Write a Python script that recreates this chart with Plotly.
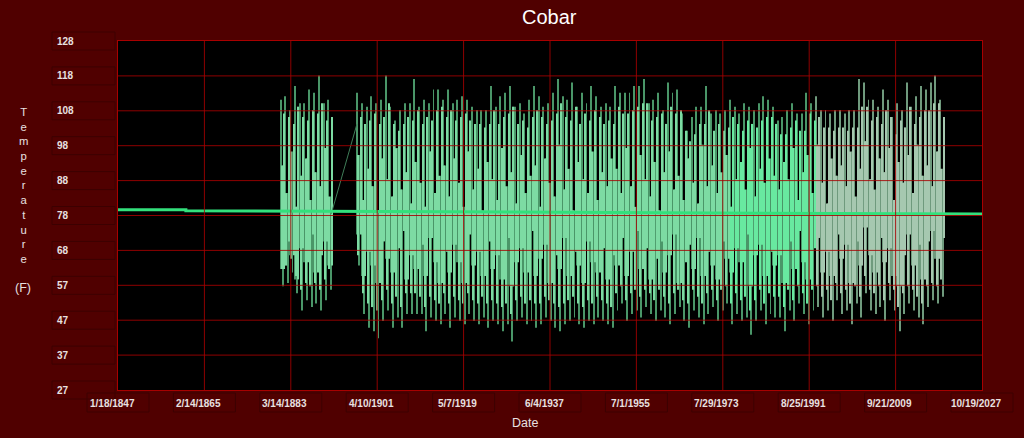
import plotly.graph_objects as go
import numpy as np

chart_title = "Cobar"
x_title = "Date"
y_title = "Temperature"
y_unit = "(F)"

x_tick_dates = ["1847-01-18", "1865-02-14", "1883-03-14", "1901-04-10", "1919-05-07",
                "1937-06-04", "1955-07-01", "1973-07-29", "1991-08-25", "2009-09-21", "2027-10-19"]
x_tick_labels = ["1/18/1847", "2/14/1865", "3/14/1883", "4/10/1901", "5/7/1919",
                 "6/4/1937", "7/1/1955", "7/29/1973", "8/25/1991", "9/21/2009", "10/19/2027"]
y_tick_labels = ["27", "37", "47", "57", "68", "78", "88", "98", "108", "118", "128"]

years = list(range(1881, 1892)) + list(range(1897, 2020))

# annual extreme maxima (summer spike tips)
annual_max = ([111, 112, 108, 115, 110, 110, 114, 113, 118, 110, 111]
              + [113, 110, 109, 112, 110, 111, 118, 109, 105, 108, 110, 110, 117, 109, 111, 110, 114, 114, 111]
              + [114, 110, 111, 112, 111, 109, 108, 108, 108, 115, 109, 112, 113, 115, 109, 110, 107, 111, 115, 112,
                 109, 110, 113, 117, 112, 111, 116, 109, 113, 110, 115, 112, 109, 110, 109]
              + [115, 113, 113, 113, 115, 115, 117, 110, 111, 113, 108, 116, 113, 114, 107, 102, 106, 109, 109, 115,
                 107, 108, 107, 108, 111, 109, 107, 110, 109, 108, 110, 112, 111, 109]
              + [105, 106, 108, 110, 107, 107, 113, 110, 112, 108, 108, 107, 108, 108, 107, 108, 108, 117, 116, 111,
                 111, 109, 114, 111, 106, 110, 108, 116, 109, 112, 115, 114, 116, 118, 111])

# annual extreme minima (winter spike tips)
annual_min = ([57, 58, 61, 55, 50, 53, 51, 52, 50, 53, 56]
              + [63, 49, 45, 44, 42, 47, 50, 45, 48, 45, 49, 49, 49, 49, 44, 48, 47, 46, 49]
              + [45, 48, 47, 46, 49, 47, 46, 48, 45, 47, 46, 44, 46, 41, 47, 48, 46, 47, 45, 46,
                 48, 47, 45, 44, 46, 47, 48, 46, 45, 47, 46, 48, 47, 46, 45]
              + [50, 52, 47, 49, 50, 48, 51, 49, 47, 50, 48, 46, 49, 51, 47, 45, 50, 48, 46, 49,
                 51, 47, 50, 52, 46, 49, 47, 48, 43, 47, 50, 46, 49, 48]
              + [48, 44, 50, 47, 52, 49, 46, 50, 51, 48, 50, 47, 53, 49, 50, 46, 52, 48, 55, 50,
                 49, 51, 47, 53, 50, 44, 49, 52, 50, 48, 46, 51, 53, 52, 54])

# typical summer highs (top of the bright body)
core_high = ([107, 106, 104, 109, 106, 105, 108, 107, 110, 105, 106]
             + [106, 104, 105, 107, 104, 106, 110, 104, 102, 104, 106, 105, 108, 104, 106, 105, 108, 109, 106]
             + [108, 105, 106, 107, 105, 104, 104, 103, 104, 108, 104, 106, 107, 109, 104, 105, 103, 106, 108, 106,
                104, 105, 107, 110, 106, 105, 109, 104, 107, 105, 108, 106, 104, 105, 104]
             + [109, 107, 107, 108, 109, 110, 110, 105, 106, 107, 104, 109, 107, 108, 102, 99, 101, 104, 104, 108,
                102, 104, 102, 103, 106, 104, 102, 105, 104, 103, 105, 106, 106, 104]
             + [101, 101, 103, 105, 102, 102, 107, 105, 106, 103, 103, 102, 103, 103, 102, 103, 103, 109, 109, 105,
                106, 104, 108, 106, 101, 105, 103, 109, 104, 106, 108, 108, 110, 110, 106])

# coolest summer days (bottom of the summer streak)
summer_floor = ([62, 70, 66, 59, 68, 64, 72, 61, 66, 70, 63]
                + [72, 60, 67, 63, 58, 70, 65, 61, 68, 73, 59, 66, 62, 69, 60, 71, 64, 58, 67]
                + [61, 69, 64, 58, 72, 63, 67, 60, 70, 62, 66, 59, 71, 57, 64, 68, 61, 73, 60, 65,
                   69, 58, 66, 62, 71, 60, 67, 63, 58, 70, 64, 61, 68, 59, 66]
                + [63, 71, 60, 67, 73, 62, 68, 59, 65, 70, 61, 66, 72, 58, 64, 69, 62, 71, 60, 67,
                   63, 59, 70, 65, 61, 68, 64, 72, 57, 66, 69, 60, 67, 63]
                + [66, 58, 70, 62, 73, 64, 59, 68, 71, 61, 67, 60, 72, 65, 69, 58, 70, 63, 74, 66,
                   61, 71, 64, 68, 60, 57, 66, 72, 63, 69, 59, 70, 73, 65, 71])

# warmest winter days (top of the winter streak)
winter_top = ([92, 84, 96, 80, 89, 94, 82, 90, 86, 97, 83]
              + [95, 82, 91, 86, 79, 94, 88, 83, 97, 85, 90, 81, 93, 87, 80, 96, 84, 89, 92]
              + [83, 94, 87, 80, 96, 85, 91, 79, 93, 88, 82, 97, 86, 90, 81, 95, 84, 89, 92, 80,
                 94, 87, 83, 98, 85, 91, 79, 93, 88, 84, 96, 82, 90, 86, 94]
              + [91, 84, 97, 86, 80, 95, 88, 83, 93, 79, 90, 96, 85, 89, 82, 94, 87, 81, 98, 86,
                 92, 84, 90, 95, 80, 88, 93, 85, 97, 83, 91, 87, 94, 89]
              + [85, 93, 88, 97, 82, 90, 95, 84, 98, 87, 81, 94, 89, 92, 86, 96, 83, 91, 99, 88,
                 85, 94, 90, 97, 82, 93, 87, 95, 84, 98, 89, 92, 86, 96, 91])

# typical winter lows (bottom of the bright body)
core_low = ([62, 63, 65, 60, 56, 58, 57, 58, 56, 59, 62]
            + [66, 55, 52, 51, 50, 53, 56, 52, 54, 51, 55, 55, 55, 54, 51, 54, 53, 52, 55]
            + [52, 54, 53, 52, 55, 53, 52, 54, 52, 53, 52, 51, 52, 49, 53, 54, 52, 53, 52, 52,
               54, 53, 52, 51, 52, 53, 54, 52, 51, 53, 52, 54, 53, 52, 51]
            + [55, 57, 53, 55, 56, 54, 56, 55, 53, 56, 54, 52, 55, 56, 53, 52, 56, 54, 52, 55,
               56, 53, 56, 57, 52, 55, 53, 54, 50, 53, 56, 52, 55, 54]
            + [54, 51, 56, 53, 57, 55, 52, 56, 57, 54, 56, 53, 58, 55, 56, 52, 57, 54, 60, 56,
               55, 57, 53, 58, 56, 51, 55, 57, 56, 54, 52, 57, 58, 57, 59])

# readings either side of the 1891-1897 gap (joined by the line)
gap_dates = ["1891-09-01", "1897-01-15"]
gap_values = [78, 104]

trend_dates = ["1847-01-18", "1861-04-01", "1861-04-01", "2027-10-19"]
trend_values = [79.2, 79.2, 78.9, 77.9]

assert len(years) == len(annual_max) == len(annual_min) == len(core_high) == len(core_low) \
    == len(summer_floor) == len(winter_top)

BG = "#500000"
GRID = "#a80000"
TXT = "#e8e0e0"
TIP = "#3f7d58"
BOX = "#3c0000"
FONT = "Liberation Sans"
PLOT_W = 864.0
PLOT_H = 349.0


def body_color(yr):
    if yr < 1975:
        return "#7ddba3"
    if yr < 1993:
        return "#68e9a0"
    return "#a6c8b0"


def tip_color(yr):
    if yr < 1993:
        return "#4a9668"
    return "#6f9a7d"


YEAR_MS = 365.25 * 86400000
body = [body_color(y) for y in years]
tips = [tip_color(y) for y in years]

fig = go.Figure()


def streak(month_day, lo, hi, col, w):
    fig.add_trace(go.Bar(x=[f"{y}-{month_day}" for y in years], base=lo, y=np.subtract(hi, lo),
                         width=w * YEAR_MS, marker=dict(color=col, line=dict(width=0)),
                         hoverinfo="skip", showlegend=False))


# hottest summer spell and coldest winter spell (dimmer, thin)
streak("01-20", summer_floor, annual_max, tips, 0.2)
streak("07-20", annual_min, winter_top, tips, 0.2)
# typical autumn and spring swings (bright body)
streak("04-20", core_low, winter_top, body, 0.24)
streak("10-20", summer_floor, core_high, body, 0.24)

fig.add_trace(go.Scatter(x=gap_dates, y=gap_values, mode="lines",
                         line=dict(color=TIP, width=1), hoverinfo="skip", showlegend=False))
fig.add_trace(go.Scatter(x=trend_dates, y=trend_values, mode="lines",
                         line=dict(color="#33e07c", width=3), hoverinfo="skip", showlegend=False))

tickvals_y = np.linspace(27, 128, 11)
n_y = len(tickvals_y)
n_x = len(x_tick_dates)

shapes = []
for d in x_tick_dates[1:-1]:
    shapes.append(dict(type="line", xref="x", yref="paper", x0=d, x1=d, y0=0, y1=1,
                       line=dict(color=GRID, width=1), layer="above", opacity=0.85))
for v in tickvals_y[1:-1]:
    shapes.append(dict(type="line", xref="paper", yref="y", x0=0, x1=1, y0=v, y1=v,
                       line=dict(color=GRID, width=1), layer="above", opacity=0.85))
# faint frames around the tick labels
for i in range(n_y):
    yc = i / (n_y - 1)
    shapes.append(dict(type="rect", xref="paper", yref="paper",
                       x0=-66 / PLOT_W, x1=-3 / PLOT_W, y0=yc - 9 / PLOT_H, y1=yc + 9 / PLOT_H,
                       line=dict(color=BOX, width=1), layer="below"))
for i in range(n_x):
    xc = i / (n_x - 1)
    shapes.append(dict(type="rect", xref="paper", yref="paper",
                       x0=xc - 31 / PLOT_W, x1=xc + 31 / PLOT_W, y0=-22 / PLOT_H, y1=-3 / PLOT_H,
                       line=dict(color=BOX, width=1), layer="below"))

annotations = []
for v, t in zip(tickvals_y, y_tick_labels):
    annotations.append(dict(x=-0.0729, xref="paper", y=v, yref="y", text=t, showarrow=False,
                            xanchor="left", yanchor="middle",
                            font=dict(family=FONT, size=10, color=TXT, weight="bold")))
for d, t in zip(x_tick_dates, x_tick_labels):
    annotations.append(dict(x=d, xref="x", y=-0.040, yref="paper", text=t, showarrow=False,
                            xanchor="center", yanchor="middle", xshift=-6,
                            font=dict(family=FONT, size=10, color=TXT, weight="bold")))
annotations.append(dict(x=-0.1095, xref="paper", y=0.586, yref="paper",
                        text="<br>".join(list(y_title)), showarrow=False,
                        xanchor="center", yanchor="middle",
                        font=dict(family=FONT, size=11.3, color=TXT)))
annotations.append(dict(x=-0.1095, xref="paper", y=0.292, yref="paper",
                        text=y_unit, showarrow=False, xanchor="center", yanchor="middle",
                        font=dict(family=FONT, size=12.5, color=TXT)))
annotations.append(dict(x=0.471, xref="paper", y=-0.094, yref="paper",
                        text=x_title, showarrow=False, xanchor="center", yanchor="middle",
                        font=dict(family=FONT, size=12.5, color=TXT)))

fig.update_layout(
    width=1024, height=438,
    margin=dict(l=118, r=42, t=41, b=48),
    paper_bgcolor=BG, plot_bgcolor="#000000",
    barmode="overlay",
    title=dict(text=chart_title, x=0.5364, xanchor="center", y=0.962, yanchor="middle",
               font=dict(family=FONT, size=20, color="#ffffff")),
    xaxis=dict(type="date", range=[x_tick_dates[0], x_tick_dates[-1]],
               tickvals=x_tick_dates, showticklabels=False, showgrid=False, zeroline=False,
               showline=True, linecolor=GRID, mirror=True, ticks=""),
    yaxis=dict(range=[27, 128], tickvals=tickvals_y, showticklabels=False, showgrid=False,
               zeroline=False, showline=True, linecolor=GRID, mirror=True, ticks=""),
    shapes=shapes,
    annotations=annotations,
)

fig.write_html("out.html", config={"displayModeBar": False},
               post_script="document.body.style.margin='0';document.body.style.overflow='hidden';")
